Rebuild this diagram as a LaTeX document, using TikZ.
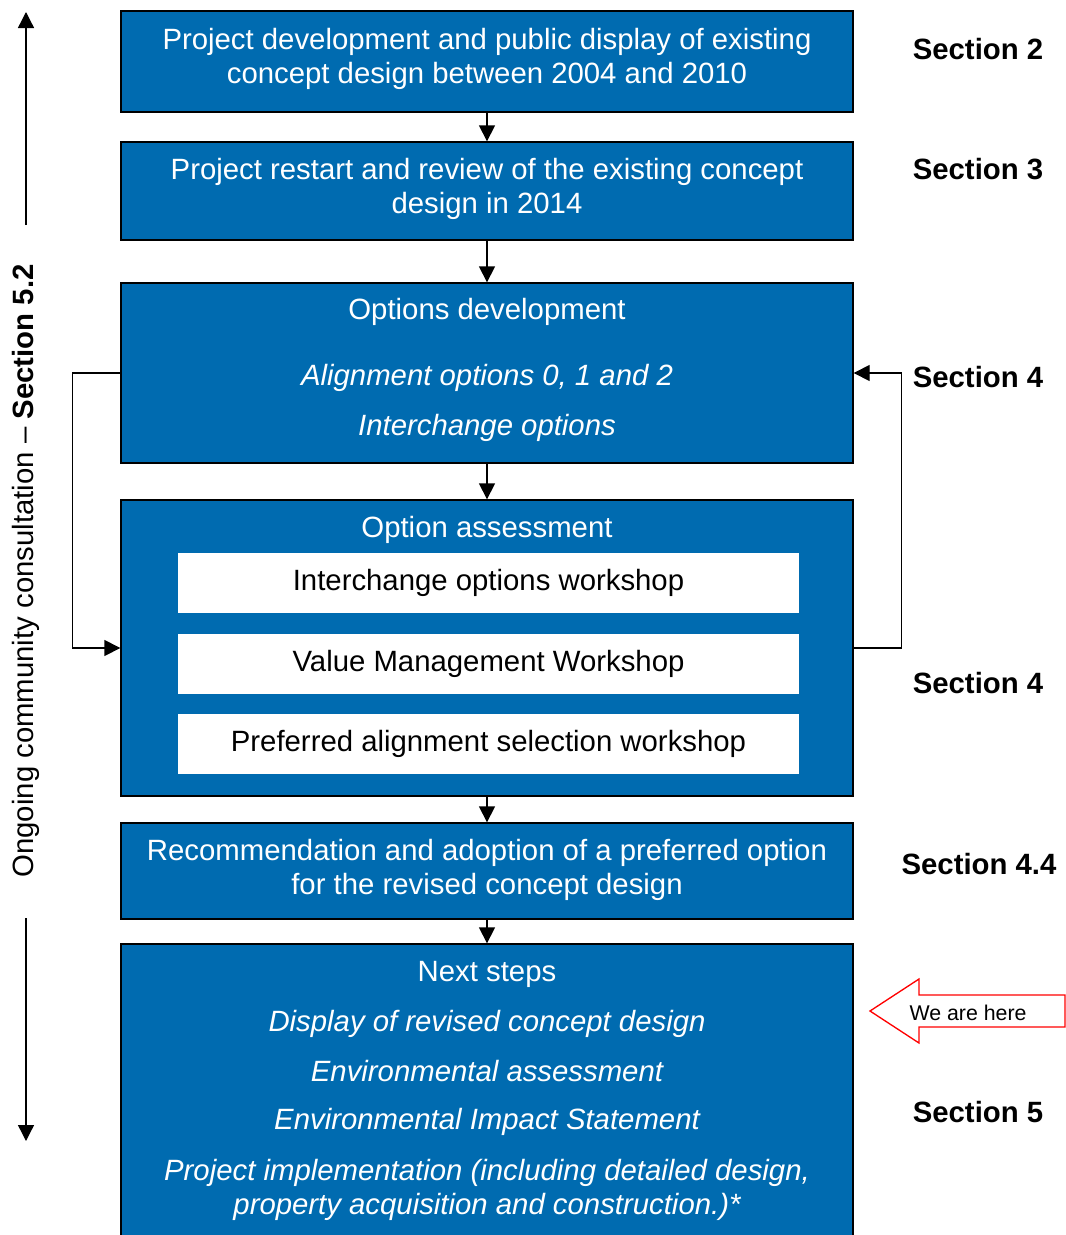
\documentclass[tikz,border=0pt]{standalone}
\usepackage{fontspec}
\setmainfont{Liberation Sans}
\usetikzlibrary{arrows.meta}
\definecolor{stageblue}{RGB}{0,107,176}
\newcommand{\boxfont}{\fontsize{22pt}{25pt}\selectfont}
\tikzstyle{stage}=[draw=black,line width=1pt,fill=stageblue,minimum width=549pt,inner sep=0pt]
\tikzstyle{workshop}=[fill=white,minimum width=465.75pt,minimum height=45pt,inner sep=0pt,font=\boxfont]
\tikzstyle{boxtext}=[text=white,align=center,font=\boxfont,inner sep=0pt]
\tikzstyle{secname}=[font=\boxfont\bfseries,inner sep=0pt]
\tikzstyle{flow}=[draw,line width=1pt,-{Triangle[width=12pt,length=12pt]}]

\begin{document}
\begin{tikzpicture}[x=0.75pt,y=-0.75pt]
      \useasboundingbox (0,0) rectangle (1066,1235);

      % stages
      \node[stage,minimum height=75.75pt] (box1) at (487,61.5) {};
      \node[stage,minimum height=73.5pt] (box2) at (487,191) {};
      \node[stage,minimum height=135pt] (box3) at (487,373) {};
      \node[stage,minimum height=222pt] (box4) at (487,648) {};
      \node[stage,minimum height=72pt] (box5) at (487,871) {};
      \node[stage,minimum height=222pt] (box6) at (487,1092) {};

      \node[boxtext] (t1) at (487,59) {Project development and public display of existing\\concept design between 2004 and 2010};
      \node[boxtext] (t2) at (487,189) {Project restart and review of the existing concept\\design in 2014};
      \node[boxtext] (t3) at (487,312) {Options development};
      \node[boxtext] (t3a) at (487,378) {\itshape Alignment options 0, 1 and 2};
      \node[boxtext] (t3b) at (487,428) {\itshape Interchange options};
      \node[boxtext] (t4) at (487,530) {Option assessment};
      \node[boxtext] (t5) at (487,870) {Recommendation and adoption of a preferred option\\for the revised concept design};
      \node[boxtext] (t6) at (487,974) {Next steps};
      \foreach \y/\id/\txt in {1024/t6a/Display of revised concept design,
                               1071/t6b/Environmental assessment,
                               1122/t6c/Environmental Impact Statement}{
        \node[boxtext] (\id) at (487,\y) {\itshape \txt};
      }
      \node[boxtext] (t6d) at (487,1190) {\itshape Project implementation (including detailed design,\\\itshape property acquisition and construction.)*};

      % workshops
      \node[workshop] (w1) at (488.5,583) {Interchange options workshop};
      \node[workshop] (w2) at (488.5,663.5) {Value Management Workshop};
      \node[workshop] (w3) at (488.5,744) {Preferred alignment selection workshop};

      \foreach \a/\b in {box1/box2,box2/box3,box3/box4,box4/box5,box5/box6}{
        \path[flow] (\a) -- (\b);
      }
      \path[flow] (box3.west) -- ++(-48,0) |- (box4.west);
      \path[flow] (box4.east) -- ++(48,0) |- (box3.east);

      % section references
      \foreach \y/\id/\txt in {49/s2/Section 2,169/s3/Section 3,377/s4/Section 4,
                               683/s4b/Section 4,1112/s5/Section 5}{
        \node[secname] (\id) at (978,\y) {\txt};
      }
      \node[secname] (s44) at (979,864) {Section 4.4};

      % consultation
      \node[rotate=90,font=\fontsize{22pt}{25pt}\selectfont,inner sep=0pt] (consult) at (26,571)
        {Ongoing community consultation -- \textbf{Section 5.2}};
      \coordinate (upfrom) at (26,225);
      \coordinate (upto) at (26,12);
      \coordinate (downfrom) at (26,918);
      \coordinate (downto) at (26,1141);
      \path[flow] (upfrom) -- (upto);
      \path[flow] (downfrom) -- (downto);

      % current position
      \draw[red,line width=1pt] (870,1011) -- (919,979) -- (919,995) -- (1065,995)
        -- (1065,1027) -- (919,1027) -- (919,1043) -- cycle;
      \node[font=\fontsize{16pt}{18pt}\selectfont,inner sep=0pt] (here) at (968,1013) {We are here};
\end{tikzpicture}
\end{document}
